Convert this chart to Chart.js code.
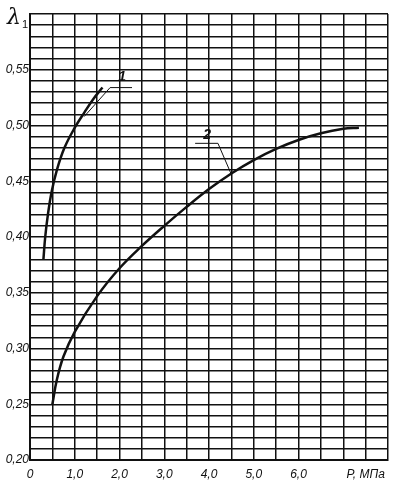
<!DOCTYPE html>
<html>
<head>
<meta charset="utf-8">
<script src="https://cdn.jsdelivr.net/npm/chart.js@4/dist/chart.umd.min.js"></script>
<style>
  html, body { margin: 0; padding: 0; background: #fff; }
  #wrap { width: 399px; height: 490px; }
</style>
</head>
<body>
<div id="wrap"><canvas id="chart"></canvas></div>
<script>
// curve 1
const curve1P = [0.30, 0.34, 0.40, 0.48, 0.60, 0.77, 1.00, 1.22, 1.42, 1.62];
const curve1L = [0.380, 0.400, 0.420, 0.440, 0.460, 0.480, 0.498, 0.512, 0.524, 0.534];
// curve 2
const curve2P = [0.50, 0.60, 0.75, 1.0, 1.5, 2.0, 2.5, 3.0, 3.5, 4.0, 4.5, 5.0, 5.5, 6.0, 6.5, 7.0, 7.35];
const curve2L = [0.250, 0.272, 0.293, 0.315, 0.347, 0.372, 0.392, 0.410, 0.427, 0.443, 0.457, 0.469, 0.479, 0.487, 0.493, 0.497, 0.498];
// leader lines to the curve numbers
const leader1P = [1.21, 1.79, 2.28];
const leader1L = [0.508, 0.534, 0.534];
const leader2P = [3.69, 4.20, 4.49];
const leader2L = [0.484, 0.484, 0.457];
const curveNames = ['1', '2'];
const namePos = [[2.06, 0.543], [3.96, 0.491]];

const xMax = 8, yMin = 0.20, yMax = 0.60;
const xUnit = 'P, МПа';
const yName = 'λ';

const pts = (xs, ys) => xs.map((x, i) => ({ x: x, y: ys[i] }));
const fmt = v => v.toFixed(1).replace('.', ',');
const ink = '#111';
const font = { family: 'Liberation Sans, Arial, sans-serif', size: 12, style: 'italic' };

const labels = {
  id: 'labels',
  afterDraw(chart) {
    const ctx = chart.ctx;
    const xs = chart.scales.x, ys = chart.scales.y;
    ctx.save();
    ctx.fillStyle = ink;
    ctx.textAlign = 'center';
    ctx.textBaseline = 'middle';
    ctx.font = 'italic bold 14px Liberation Sans, Arial, sans-serif';
    curveNames.forEach((n, i) => {
      ctx.fillText(n, xs.getPixelForValue(namePos[i][0]), ys.getPixelForValue(namePos[i][1]));
    });
    ctx.font = 'italic 22px DejaVu Serif, serif';
    ctx.fillText(yName, 14, 18);
    ctx.font = '11px Liberation Sans, Arial, sans-serif';
    ctx.fillText('1', 25, 25);
    ctx.restore();
  }
};

const curve = data => ({
  data: data, borderColor: ink, borderWidth: 2.5, pointRadius: 0,
  fill: false, tension: 0.4
});

new Chart(document.getElementById('chart'), {
  type: 'line',
  data: {
    datasets: [
      curve(pts(curve1P, curve1L)),
      curve(pts(curve2P, curve2L)),
      { data: pts(leader1P, leader1L), borderColor: ink, borderWidth: 1, pointRadius: 0, tension: 0 },
      { data: pts(leader2P, leader2L), borderColor: ink, borderWidth: 1, pointRadius: 0, tension: 0 }
    ]
  },
  options: {
    responsive: true,
    maintainAspectRatio: false,
    animation: false,
    layout: { padding: { top: 14, right: 11, left: 0, bottom: 0 } },
    plugins: { legend: { display: false }, tooltip: { enabled: false } },
    scales: {
      x: {
        type: 'linear', min: 0, max: xMax,
        afterFit: s => { s.height = 30; },
        border: { color: ink, width: 2 },
        grid: { color: ink, lineWidth: 1.5, drawTicks: false },
        ticks: {
          stepSize: 0.5, autoSkip: false, maxRotation: 0, padding: 7,
          color: ink, font: font,
          callback: v => {
            if (Math.abs(v - 7.5) < 1e-6) return xUnit;
            if (v > 6.5) return '';
            if (Math.abs(v - Math.round(v)) > 1e-6) return '';
            return v === 0 ? '0' : fmt(v);
          }
        }
      },
      y: {
        type: 'linear', min: yMin, max: yMax,
        afterFit: s => { s.width = 30; },
        border: { color: ink, width: 2 },
        grid: { color: ink, lineWidth: 1.5, drawTicks: false },
        ticks: {
          stepSize: 0.01, autoSkip: false, padding: 1,
          color: ink, font: font,
          callback: v => {
            const k = Math.round(v * 100);
            if (k % 5 !== 0 || k === 60) return '';
            return '0,' + String(k).padStart(2, '0');
          }
        }
      }
    }
  },
  plugins: [labels]
});
</script>
</body>
</html>
